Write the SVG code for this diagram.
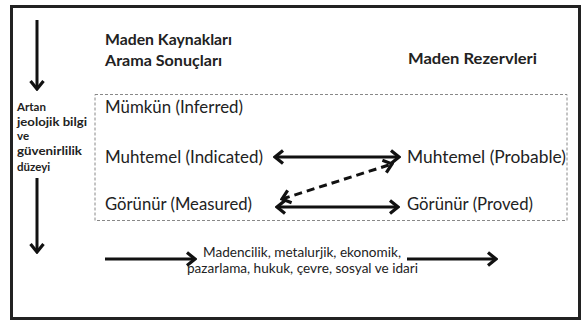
<svg xmlns="http://www.w3.org/2000/svg" width="582" height="321" viewBox="0 0 582 321">
<style>
text{font-family:Lato,"Open Sans","Liberation Sans",sans-serif;fill:#222}
.h{font-size:15.5px;font-weight:bold}
.s{font-size:11.5px;font-weight:bold}
.n{font-size:16.5px}
.b{font-size:13px}
.ln{stroke:#111;stroke-width:3;fill:none}
.dash{stroke:#111;stroke-width:3;fill:none;stroke-dasharray:8 5}
</style>
<defs>
<marker id="ah" markerUnits="userSpaceOnUse" viewBox="-12 -9 14 18" refX="0" refY="0" markerWidth="14" markerHeight="18" orient="auto-start-reverse">
<path d="M-8,-6.5 L0,0 L-8,6.5" fill="none" stroke="#111" stroke-width="3.2"/>
</marker>
</defs>
<rect x="11.5" y="6.5" width="568" height="312" fill="#fff" stroke="#222" stroke-width="3"/>
<rect x="95" y="94.5" width="472" height="126" fill="none" stroke="#888" stroke-width="1" stroke-dasharray="3 2"/>
<g id="titles">
<text class="h" x="105" y="45" textLength="127" lengthAdjust="spacingAndGlyphs">Maden Kaynakları</text>
<text class="h" x="105" y="66" textLength="117" lengthAdjust="spacingAndGlyphs">Arama Sonuçları</text>
<text class="h" x="408" y="64" textLength="129" lengthAdjust="spacingAndGlyphs">Maden Rezervleri</text>
</g>
<g id="side-label">
<text class="s" x="17" y="111">Artan</text>
<text class="s" x="17" y="126" textLength="70" lengthAdjust="spacingAndGlyphs">jeolojik bilgi</text>
<text class="s" x="17" y="140">ve</text>
<text class="s" x="17" y="155" textLength="65" lengthAdjust="spacingAndGlyphs">güvenirlilik</text>
<text class="s" x="17" y="171">düzeyi</text>
</g>
<g id="inferred"><text class="n" x="105" y="113" textLength="138" lengthAdjust="spacingAndGlyphs">Mümkün (Inferred)</text></g>
<g id="indicated"><text class="n" x="105" y="163" textLength="158" lengthAdjust="spacingAndGlyphs">Muhtemel (Indicated)</text></g>
<g id="measured"><text class="n" x="105" y="210" textLength="147" lengthAdjust="spacingAndGlyphs">Görünür (Measured)</text></g>
<g id="probable"><text class="n" x="407" y="163" textLength="159" lengthAdjust="spacingAndGlyphs">Muhtemel (Probable)</text></g>
<g id="proved"><text class="n" x="407" y="210" textLength="126" lengthAdjust="spacingAndGlyphs">Görünür (Proved)</text></g>
<g id="factors">
<text class="b" x="203" y="257" textLength="198" lengthAdjust="spacingAndGlyphs">Madencilik, metalurjik, ekonomik,</text>
<text class="b" x="187" y="273" textLength="231" lengthAdjust="spacingAndGlyphs">pazarlama, hukuk, çevre, sosyal ve idari</text>
</g>
<g id="connectors">
<line class="ln" x1="37" y1="20" x2="37" y2="89" marker-end="url(#ah)"/>
<line class="ln" x1="37" y1="178" x2="37" y2="252" marker-end="url(#ah)"/>
<line class="ln" x1="275" y1="157" x2="399" y2="157" marker-start="url(#ah)" marker-end="url(#ah)"/>
<line class="ln" x1="277" y1="207" x2="398" y2="207" marker-start="url(#ah)" marker-end="url(#ah)"/>
<line class="dash" x1="282" y1="199" x2="392" y2="164" marker-start="url(#ah)" marker-end="url(#ah)"/>
<line class="ln" x1="105" y1="259" x2="195" y2="259" marker-end="url(#ah)"/>
<line class="ln" x1="407" y1="259" x2="496" y2="259" marker-end="url(#ah)"/>
</g>
</svg>
